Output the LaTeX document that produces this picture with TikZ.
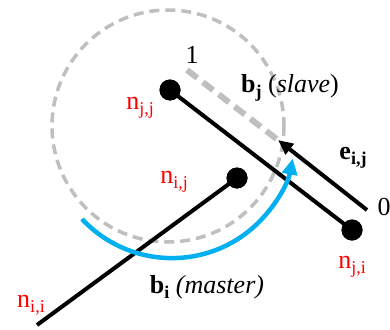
\documentclass[tikz,border=0pt]{standalone}
\usepackage{fontspec}
\setmainfont{Liberation Serif}
\usetikzlibrary{arrows.meta}
\definecolor{cgray}{RGB}{191,191,191}
\definecolor{cblue}{RGB}{0,176,240}
\newcommand{\sbs}[1]{\raisebox{-0.4ex}{\fontsize{18}{18}\selectfont #1}}
\begin{document}
\begin{tikzpicture}[x=1pt,y=-1pt,
  lbl/.style={font=\fontsize{26}{30}\selectfont, inner sep=0pt},
  redlbl/.style={lbl,text=red},
  dot/.style={circle,fill=black,minimum size=21pt,inner sep=0pt},
  bar/.style={line width=4pt}]
\useasboundingbox (0,0) rectangle (390,329);
% dashed circle and dashed ray
\draw[cgray, line width=3.5pt, dash pattern=on 10pt off 6pt] (168,126) circle[radius=116];
\coordinate (d1) at (187,70);
\coordinate (e1) at (278,140);
\coordinate (e0) at (367,210);
\draw[cgray, line width=6pt, dash pattern=on 13pt off 7pt] (d1) -- (e1);
% bars
\node[dot] (njj) at (170,90) {};
\node[dot] (nji) at (352,230) {};
\node[dot] (nij) at (237,178) {};
\coordinate (nii) at (37,325);
\draw[bar] (njj.center) -- (nji.center);
\draw[bar] (nij.center) -- (nii);
\node[dot] at (njj) {};
\node[dot] at (nji) {};
\node[dot] at (nij) {};
% e arrow
\draw[bar, -{Triangle[length=15pt,width=13pt]}] (e0) -- (e1);
% blue arc
\coordinate (bs) at (82,219);
\draw[cblue, line width=4.5pt, -{Triangle[length=16pt,width=15pt]}] (bs) arc[start angle=137, end angle=11, radius=123];
% labels
\node[lbl] (one) at (192,55) {1};
\node[lbl] (bj) at (290,88) {\textbf{b}\sbs{\textbf{j}} (\textit{slave})};
\node[lbl] (eij) at (353,158) {\textbf{e}\sbs{\textbf{i,j}}};
\node[lbl] (zero) at (384,207) {0};
\node[redlbl] (ljj) at (140,108) {n\sbs{j,j}};
\node[redlbl] (lij) at (174,182) {n\sbs{i,j}};
\node[redlbl] (lji) at (352,267) {n\sbs{j,i}};
\node[redlbl] (lii) at (31,305) {n\sbs{i,i}};
\node[lbl] (bi) at (207,287) {\textbf{b}\sbs{\textbf{i}} \textit{(master)}};
\end{tikzpicture}
\end{document}
